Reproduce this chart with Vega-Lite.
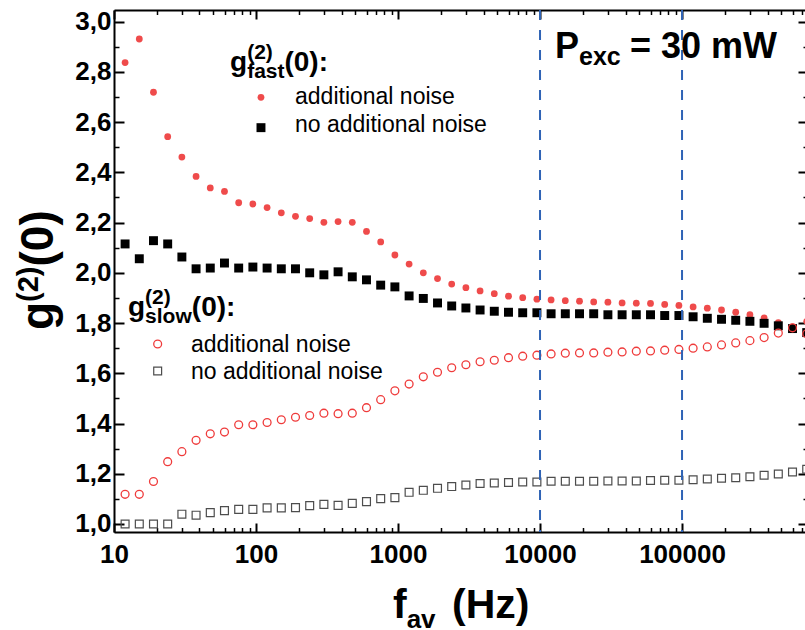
{
  "$schema": "https://vega.github.io/schema/vega-lite/v6.json",
  "autosize": {"type": "none"},
  "padding": {"left": 114, "top": 10, "right": 0, "bottom": 98},
  "width": 694,
  "height": 522,
  "background": "white",
  "config": {
    "view": {"stroke": null},
    "axis": {"domainColor": "black", "domainWidth": 2, "tickColor": "black", "tickWidth": 2, "grid": false, "labelFont": "Liberation Sans", "labelFontWeight": "bold", "labelFontSize": 26, "labelColor": "black", "title": null}
  },
  "datasets": {
    "fastAdd": [
      {"f":11.97,"g":2.837},{"f":15.07,"g":2.931},{"f":18.97,"g":2.719},{"f":23.88,"g":2.542},{"f":30.06,"g":2.461},{"f":37.84,"g":2.384},{"f":47.64,"g":2.338},{"f":59.98,"g":2.324},{"f":75.51,"g":2.279},{"f":95.06,"g":2.274},
      {"f":119.7,"g":2.260},{"f":150.7,"g":2.239},{"f":189.7,"g":2.225},{"f":238.8,"g":2.216},{"f":300.6,"g":2.201},{"f":378.4,"g":2.204},{"f":476.4,"g":2.201},{"f":599.8,"g":2.165},{"f":755.1,"g":2.123},{"f":950.6,"g":2.071},
      {"f":1197,"g":2.035},{"f":1507,"g":2.000},{"f":1897,"g":1.977},{"f":2388,"g":1.955},{"f":3006,"g":1.941},{"f":3784,"g":1.928},{"f":4764,"g":1.917},{"f":5998,"g":1.907},{"f":7551,"g":1.901},{"f":9506,"g":1.895},
      {"f":11967,"g":1.892},{"f":15066,"g":1.889},{"f":18967,"g":1.887},{"f":23878,"g":1.884},{"f":30060,"g":1.883},{"f":37843,"g":1.880},{"f":47642,"g":1.879},{"f":59977,"g":1.878},{"f":75507,"g":1.874},{"f":95058,"g":1.870},
      {"f":119670,"g":1.864},{"f":150660,"g":1.859},{"f":189670,"g":1.852},{"f":238780,"g":1.843},{"f":300600,"g":1.833},{"f":378430,"g":1.821},{"f":476420,"g":1.802},{"f":599770,"g":1.785},{"f":755070,"g":1.807}
    ],
    "fastNo": [
      {"f":11.97,"g":2.115},{"f":15.07,"g":2.056},{"f":18.97,"g":2.128},{"f":23.88,"g":2.115},{"f":30.06,"g":2.063},{"f":37.84,"g":2.016},{"f":47.64,"g":2.019},{"f":59.98,"g":2.039},{"f":75.51,"g":2.019},{"f":95.06,"g":2.023},
      {"f":119.7,"g":2.019},{"f":150.7,"g":2.016},{"f":189.7,"g":2.016},{"f":238.8,"g":2.000},{"f":300.6,"g":1.992},{"f":378.4,"g":2.004},{"f":476.4,"g":1.984},{"f":599.8,"g":1.972},{"f":755.1,"g":1.951},{"f":950.6,"g":1.944},
      {"f":1197,"g":1.908},{"f":1507,"g":1.898},{"f":1897,"g":1.880},{"f":2388,"g":1.868},{"f":3006,"g":1.860},{"f":3784,"g":1.852},{"f":4764,"g":1.847},{"f":5998,"g":1.843},{"f":7551,"g":1.841},{"f":9506,"g":1.841},
      {"f":11967,"g":1.837},{"f":15066,"g":1.837},{"f":18967,"g":1.837},{"f":23878,"g":1.837},{"f":30060,"g":1.833},{"f":37843,"g":1.833},{"f":47642,"g":1.833},{"f":59977,"g":1.833},{"f":75507,"g":1.830},{"f":95058,"g":1.830},
      {"f":119670,"g":1.825},{"f":150660,"g":1.819},{"f":189670,"g":1.815},{"f":238780,"g":1.811},{"f":300600,"g":1.807},{"f":378430,"g":1.799},{"f":476420,"g":1.789},{"f":599770,"g":1.778},{"f":755070,"g":1.762}
    ],
    "slowAdd": [
      {"f":11.97,"g":1.118},{"f":15.07,"g":1.118},{"f":18.97,"g":1.169},{"f":23.88,"g":1.248},{"f":30.06,"g":1.288},{"f":37.84,"g":1.333},{"f":47.64,"g":1.359},{"f":59.98,"g":1.366},{"f":75.51,"g":1.395},{"f":95.06,"g":1.395},
      {"f":119.7,"g":1.404},{"f":150.7,"g":1.415},{"f":189.7,"g":1.425},{"f":238.8,"g":1.432},{"f":300.6,"g":1.441},{"f":378.4,"g":1.439},{"f":476.4,"g":1.441},{"f":599.8,"g":1.463},{"f":755.1,"g":1.495},{"f":950.6,"g":1.530},
      {"f":1197,"g":1.557},{"f":1507,"g":1.586},{"f":1897,"g":1.604},{"f":2388,"g":1.622},{"f":3006,"g":1.634},{"f":3784,"g":1.646},{"f":4764,"g":1.652},{"f":5998,"g":1.662},{"f":7551,"g":1.668},{"f":9506,"g":1.672},
      {"f":11967,"g":1.677},{"f":15066,"g":1.680},{"f":18967,"g":1.681},{"f":23878,"g":1.681},{"f":30060,"g":1.684},{"f":37843,"g":1.685},{"f":47642,"g":1.688},{"f":59977,"g":1.689},{"f":75507,"g":1.692},{"f":95058,"g":1.695},
      {"f":119670,"g":1.700},{"f":150660,"g":1.705},{"f":189670,"g":1.713},{"f":238780,"g":1.721},{"f":300600,"g":1.730},{"f":378430,"g":1.742},{"f":476420,"g":1.760},{"f":599770,"g":1.781},{"f":755070,"g":1.757}
    ],
    "slowNo": [
      {"f":11.97,"g":1.000},{"f":15.07,"g":1.000},{"f":18.97,"g":1.000},{"f":23.88,"g":1.000},{"f":30.06,"g":1.039},{"f":37.84,"g":1.035},{"f":47.64,"g":1.045},{"f":59.98,"g":1.053},{"f":75.51,"g":1.058},{"f":95.06,"g":1.058},
      {"f":119.7,"g":1.064},{"f":150.7,"g":1.064},{"f":189.7,"g":1.065},{"f":238.8,"g":1.073},{"f":300.6,"g":1.078},{"f":378.4,"g":1.074},{"f":476.4,"g":1.082},{"f":599.8,"g":1.089},{"f":755.1,"g":1.101},{"f":950.6,"g":1.105},
      {"f":1197,"g":1.126},{"f":1507,"g":1.134},{"f":1897,"g":1.142},{"f":2388,"g":1.149},{"f":3006,"g":1.155},{"f":3784,"g":1.161},{"f":4764,"g":1.163},{"f":5998,"g":1.165},{"f":7551,"g":1.167},{"f":9506,"g":1.167},
      {"f":11967,"g":1.170},{"f":15066,"g":1.170},{"f":18967,"g":1.170},{"f":23878,"g":1.170},{"f":30060,"g":1.171},{"f":37843,"g":1.171},{"f":47642,"g":1.171},{"f":59977,"g":1.173},{"f":75507,"g":1.174},{"f":95058,"g":1.174},
      {"f":119670,"g":1.176},{"f":150660,"g":1.179},{"f":189670,"g":1.182},{"f":238780,"g":1.184},{"f":300600,"g":1.188},{"f":378430,"g":1.194},{"f":476420,"g":1.199},{"f":599770,"g":1.207},{"f":755070,"g":1.218}
    ],
    "lines": [{"f":10000},{"f":100000}],
    "headBig": [{"x":65.6,"y":2.805,"t":"g"},{"x":158.5,"y":2.805,"t":"(0):"},{"x":12.55,"y":1.828,"t":"g"},{"x":35.31,"y":1.828,"t":"(0):"}],
    "headSmall": [{"x":86.6,"y":2.8514,"t":"(2)"},{"x":86.6,"y":2.7757,"t":"fast"},{"x":16.56,"y":1.8739,"t":"(2)"},{"x":16.56,"y":1.7983,"t":"slow"}],
    "legendText": [{"x":188.2,"y":2.671,"t":"additional noise"},{"x":188.2,"y":2.5627,"t":"no additional noise"},{"x":34.85,"y":1.686,"t":"additional noise"},{"x":34.85,"y":1.5761,"t":"no additional noise"}],
    "pBig": [{"x":12752,"y":2.854,"t":"P"},{"x":43030,"y":2.854,"t":"= 30 mW"}],
    "pSub": [{"x":18820,"y":2.8275,"t":"exc"}],
    "xTitle": [{"x":922,"y":0.6256,"t":"f"},{"x":2399,"y":0.6256,"t":"(Hz)"}],
    "xTitleSub": [{"x":1150,"y":0.5858,"t":"av"}],
    "yTitle": [{"x":3.72,"y":1.7724,"t":"g"},{"x":3.72,"y":2.0252,"t":"(0)"}],
    "yTitleSup": [{"x":2.917,"y":1.884,"t":"(2)"}],
    "legRedDot": [{"x":108.4,"y":2.699}],
    "legBlackSq": [{"x":108.4,"y":2.578}],
    "legRedCircle": [{"x":20.3,"y":1.7166}],
    "legGraySq": [{"x":20.3,"y":1.6091}]
  },
  "resolve": {"axis": {"x": "independent", "y": "independent"}},
  "layer": [
    {
      "data": {"name": "fastAdd"},
      "mark": {"type": "point", "shape": "circle", "filled": true, "size": 46, "color": "#ef4b4b", "opacity": 1},
      "encoding": {
        "x": {"field": "f", "type": "quantitative", "scale": {"type": "log", "domain": [10, 771000], "nice": false},
              "axis": {"orient": "bottom", "values": [10, 100, 1000, 10000, 100000], "format": "d", "tickSize": -9, "labelPadding": 18, "labelFlush": false, "labelOverlap": false}},
        "y": {"field": "g", "type": "quantitative", "scale": {"domain": [0.968, 3.0465], "nice": false, "zero": false},
              "axis": {"orient": "left", "values": [1.0, 1.2, 1.4, 1.6, 1.8, 2.0, 2.2, 2.4, 2.6, 2.8, 3.0], "labelExpr": "replace(format(datum.value, '.1f'), '.', ',')", "tickSize": -10, "labelPadding": 13, "labelOverlap": false}}
      }
    },
    {
      "data": {"name": "fastNo"},
      "mark": {"type": "point", "shape": "square", "filled": true, "size": 80, "color": "black", "opacity": 1},
      "encoding": {
        "x": {"field": "f", "type": "quantitative", "scale": {"type": "log", "domain": [10, 771000], "nice": false},
              "axis": {"orient": "bottom", "values": [20,30,40,50,60,70,80,90,200,300,400,500,600,700,800,900,2000,3000,4000,5000,6000,7000,8000,9000,20000,30000,40000,50000,60000,70000,80000,90000,200000,300000,400000,500000,600000,700000], "labels": false, "domain": false, "tickSize": -4.5, "tickWidth": 1.5}},
        "y": {"field": "g", "type": "quantitative", "scale": {"domain": [0.968, 3.0465], "nice": false, "zero": false},
              "axis": {"orient": "left", "values": [1.1, 1.3, 1.5, 1.7, 1.9, 2.1, 2.3, 2.5, 2.7, 2.9], "labels": false, "domain": false, "tickSize": -5, "tickWidth": 1.5}}
      }
    },
    {
      "data": {"name": "slowAdd"},
      "mark": {"type": "point", "shape": "circle", "filled": false, "size": 62, "stroke": "#ef3b3b", "strokeWidth": 1.3, "opacity": 1},
      "encoding": {
        "x": {"field": "f", "type": "quantitative", "scale": {"type": "log", "domain": [10, 771000], "nice": false},
              "axis": {"orient": "top", "values": [10, 100, 1000, 10000, 100000], "labels": false, "tickSize": -9}},
        "y": {"field": "g", "type": "quantitative", "scale": {"domain": [0.968, 3.0465], "nice": false, "zero": false},
              "axis": {"orient": "right", "values": [1.0, 1.2, 1.4, 1.6, 1.8, 2.0, 2.2, 2.4, 2.6, 2.8, 3.0], "labels": false, "tickSize": -10}}
      }
    },
    {
      "data": {"name": "slowNo"},
      "mark": {"type": "point", "shape": "square", "filled": false, "size": 62, "stroke": "#4d4d4d", "strokeWidth": 1.2, "opacity": 1},
      "encoding": {
        "x": {"field": "f", "type": "quantitative", "scale": {"type": "log", "domain": [10, 771000], "nice": false},
              "axis": {"orient": "top", "values": [20,30,40,50,60,70,80,90,200,300,400,500,600,700,800,900,2000,3000,4000,5000,6000,7000,8000,9000,20000,30000,40000,50000,60000,70000,80000,90000,200000,300000,400000,500000,600000,700000], "labels": false, "domain": false, "tickSize": -4.5, "tickWidth": 1.5}},
        "y": {"field": "g", "type": "quantitative", "scale": {"domain": [0.968, 3.0465], "nice": false, "zero": false},
              "axis": {"orient": "right", "values": [1.1, 1.3, 1.5, 1.7, 1.9, 2.1, 2.3, 2.5, 2.7, 2.9], "labels": false, "domain": false, "tickSize": -5, "tickWidth": 1.5}}
      }
    },
    {
      "data": {"name": "lines"},
      "mark": {"type": "rule", "color": "#2f63b5", "strokeWidth": 2, "strokeDash": [10, 10]},
      "encoding": {
        "x": {"field": "f", "type": "quantitative", "scale": {"type": "log", "domain": [10, 771000], "nice": false}, "axis": null}
      }
    },
    {
      "data": {"name": "legRedDot"},
      "mark": {"type": "point", "shape": "circle", "filled": true, "size": 46, "color": "#ef4b4b", "opacity": 1},
      "encoding": {
        "x": {"field": "x", "type": "quantitative", "scale": {"type": "log", "domain": [10, 771000], "nice": false}, "axis": null},
        "y": {"field": "y", "type": "quantitative", "scale": {"domain": [0.968, 3.0465], "nice": false, "zero": false}, "axis": null}
      }
    },
    {
      "data": {"name": "legBlackSq"},
      "mark": {"type": "point", "shape": "square", "filled": true, "size": 80, "color": "black", "opacity": 1},
      "encoding": {
        "x": {"field": "x", "type": "quantitative", "scale": {"type": "log", "domain": [10, 771000], "nice": false}, "axis": null},
        "y": {"field": "y", "type": "quantitative", "scale": {"domain": [0.968, 3.0465], "nice": false, "zero": false}, "axis": null}
      }
    },
    {
      "data": {"name": "legRedCircle"},
      "mark": {"type": "point", "shape": "circle", "filled": false, "size": 62, "stroke": "#ef3b3b", "strokeWidth": 1.3, "opacity": 1},
      "encoding": {
        "x": {"field": "x", "type": "quantitative", "scale": {"type": "log", "domain": [10, 771000], "nice": false}, "axis": null},
        "y": {"field": "y", "type": "quantitative", "scale": {"domain": [0.968, 3.0465], "nice": false, "zero": false}, "axis": null}
      }
    },
    {
      "data": {"name": "legGraySq"},
      "mark": {"type": "point", "shape": "square", "filled": false, "size": 62, "stroke": "#4d4d4d", "strokeWidth": 1.2, "opacity": 1},
      "encoding": {
        "x": {"field": "x", "type": "quantitative", "scale": {"type": "log", "domain": [10, 771000], "nice": false}, "axis": null},
        "y": {"field": "y", "type": "quantitative", "scale": {"domain": [0.968, 3.0465], "nice": false, "zero": false}, "axis": null}
      }
    },
    {
      "data": {"name": "headBig"},
      "mark": {"type": "text", "align": "left", "baseline": "alphabetic", "font": "Liberation Sans", "fontWeight": "bold", "fontSize": 28, "color": "black"},
      "encoding": {
        "x": {"field": "x", "type": "quantitative", "scale": {"type": "log", "domain": [10, 771000], "nice": false}, "axis": null},
        "y": {"field": "y", "type": "quantitative", "scale": {"domain": [0.968, 3.0465], "nice": false, "zero": false}, "axis": null},
        "text": {"field": "t"}
      }
    },
    {
      "data": {"name": "headSmall"},
      "mark": {"type": "text", "align": "left", "baseline": "alphabetic", "font": "Liberation Sans", "fontWeight": "bold", "fontSize": 21, "color": "black"},
      "encoding": {
        "x": {"field": "x", "type": "quantitative", "scale": {"type": "log", "domain": [10, 771000], "nice": false}, "axis": null},
        "y": {"field": "y", "type": "quantitative", "scale": {"domain": [0.968, 3.0465], "nice": false, "zero": false}, "axis": null},
        "text": {"field": "t"}
      }
    },
    {
      "data": {"name": "legendText"},
      "mark": {"type": "text", "align": "left", "baseline": "alphabetic", "font": "Liberation Sans", "fontWeight": "normal", "fontSize": 23, "color": "black"},
      "encoding": {
        "x": {"field": "x", "type": "quantitative", "scale": {"type": "log", "domain": [10, 771000], "nice": false}, "axis": null},
        "y": {"field": "y", "type": "quantitative", "scale": {"domain": [0.968, 3.0465], "nice": false, "zero": false}, "axis": null},
        "text": {"field": "t"}
      }
    },
    {
      "data": {"name": "pBig"},
      "mark": {"type": "text", "align": "left", "baseline": "alphabetic", "font": "Liberation Sans", "fontWeight": "bold", "fontSize": 36, "color": "black"},
      "encoding": {
        "x": {"field": "x", "type": "quantitative", "scale": {"type": "log", "domain": [10, 771000], "nice": false}, "axis": null},
        "y": {"field": "y", "type": "quantitative", "scale": {"domain": [0.968, 3.0465], "nice": false, "zero": false}, "axis": null},
        "text": {"field": "t"}
      }
    },
    {
      "data": {"name": "pSub"},
      "mark": {"type": "text", "align": "left", "baseline": "alphabetic", "font": "Liberation Sans", "fontWeight": "bold", "fontSize": 25, "color": "black"},
      "encoding": {
        "x": {"field": "x", "type": "quantitative", "scale": {"type": "log", "domain": [10, 771000], "nice": false}, "axis": null},
        "y": {"field": "y", "type": "quantitative", "scale": {"domain": [0.968, 3.0465], "nice": false, "zero": false}, "axis": null},
        "text": {"field": "t"}
      }
    },
    {
      "data": {"name": "xTitle"},
      "mark": {"type": "text", "align": "left", "baseline": "alphabetic", "font": "Liberation Sans", "fontWeight": "bold", "fontSize": 41, "color": "black"},
      "encoding": {
        "x": {"field": "x", "type": "quantitative", "scale": {"type": "log", "domain": [10, 771000], "nice": false}, "axis": null},
        "y": {"field": "y", "type": "quantitative", "scale": {"domain": [0.968, 3.0465], "nice": false, "zero": false}, "axis": null},
        "text": {"field": "t"}
      }
    },
    {
      "data": {"name": "xTitleSub"},
      "mark": {"type": "text", "align": "left", "baseline": "alphabetic", "font": "Liberation Sans", "fontWeight": "bold", "fontSize": 26, "color": "black"},
      "encoding": {
        "x": {"field": "x", "type": "quantitative", "scale": {"type": "log", "domain": [10, 771000], "nice": false}, "axis": null},
        "y": {"field": "y", "type": "quantitative", "scale": {"domain": [0.968, 3.0465], "nice": false, "zero": false}, "axis": null},
        "text": {"field": "t"}
      }
    },
    {
      "data": {"name": "yTitle"},
      "mark": {"type": "text", "align": "left", "baseline": "alphabetic", "angle": 270, "font": "Liberation Sans", "fontWeight": "bold", "fontSize": 46, "color": "black"},
      "encoding": {
        "x": {"field": "x", "type": "quantitative", "scale": {"type": "log", "domain": [10, 771000], "nice": false}, "axis": null},
        "y": {"field": "y", "type": "quantitative", "scale": {"domain": [0.968, 3.0465], "nice": false, "zero": false}, "axis": null},
        "text": {"field": "t"}
      }
    },
    {
      "data": {"name": "yTitleSup"},
      "mark": {"type": "text", "align": "left", "baseline": "alphabetic", "angle": 270, "font": "Liberation Sans", "fontWeight": "bold", "fontSize": 29, "color": "black"},
      "encoding": {
        "x": {"field": "x", "type": "quantitative", "scale": {"type": "log", "domain": [10, 771000], "nice": false}, "axis": null},
        "y": {"field": "y", "type": "quantitative", "scale": {"domain": [0.968, 3.0465], "nice": false, "zero": false}, "axis": null},
        "text": {"field": "t"}
      }
    }
  ]
}
